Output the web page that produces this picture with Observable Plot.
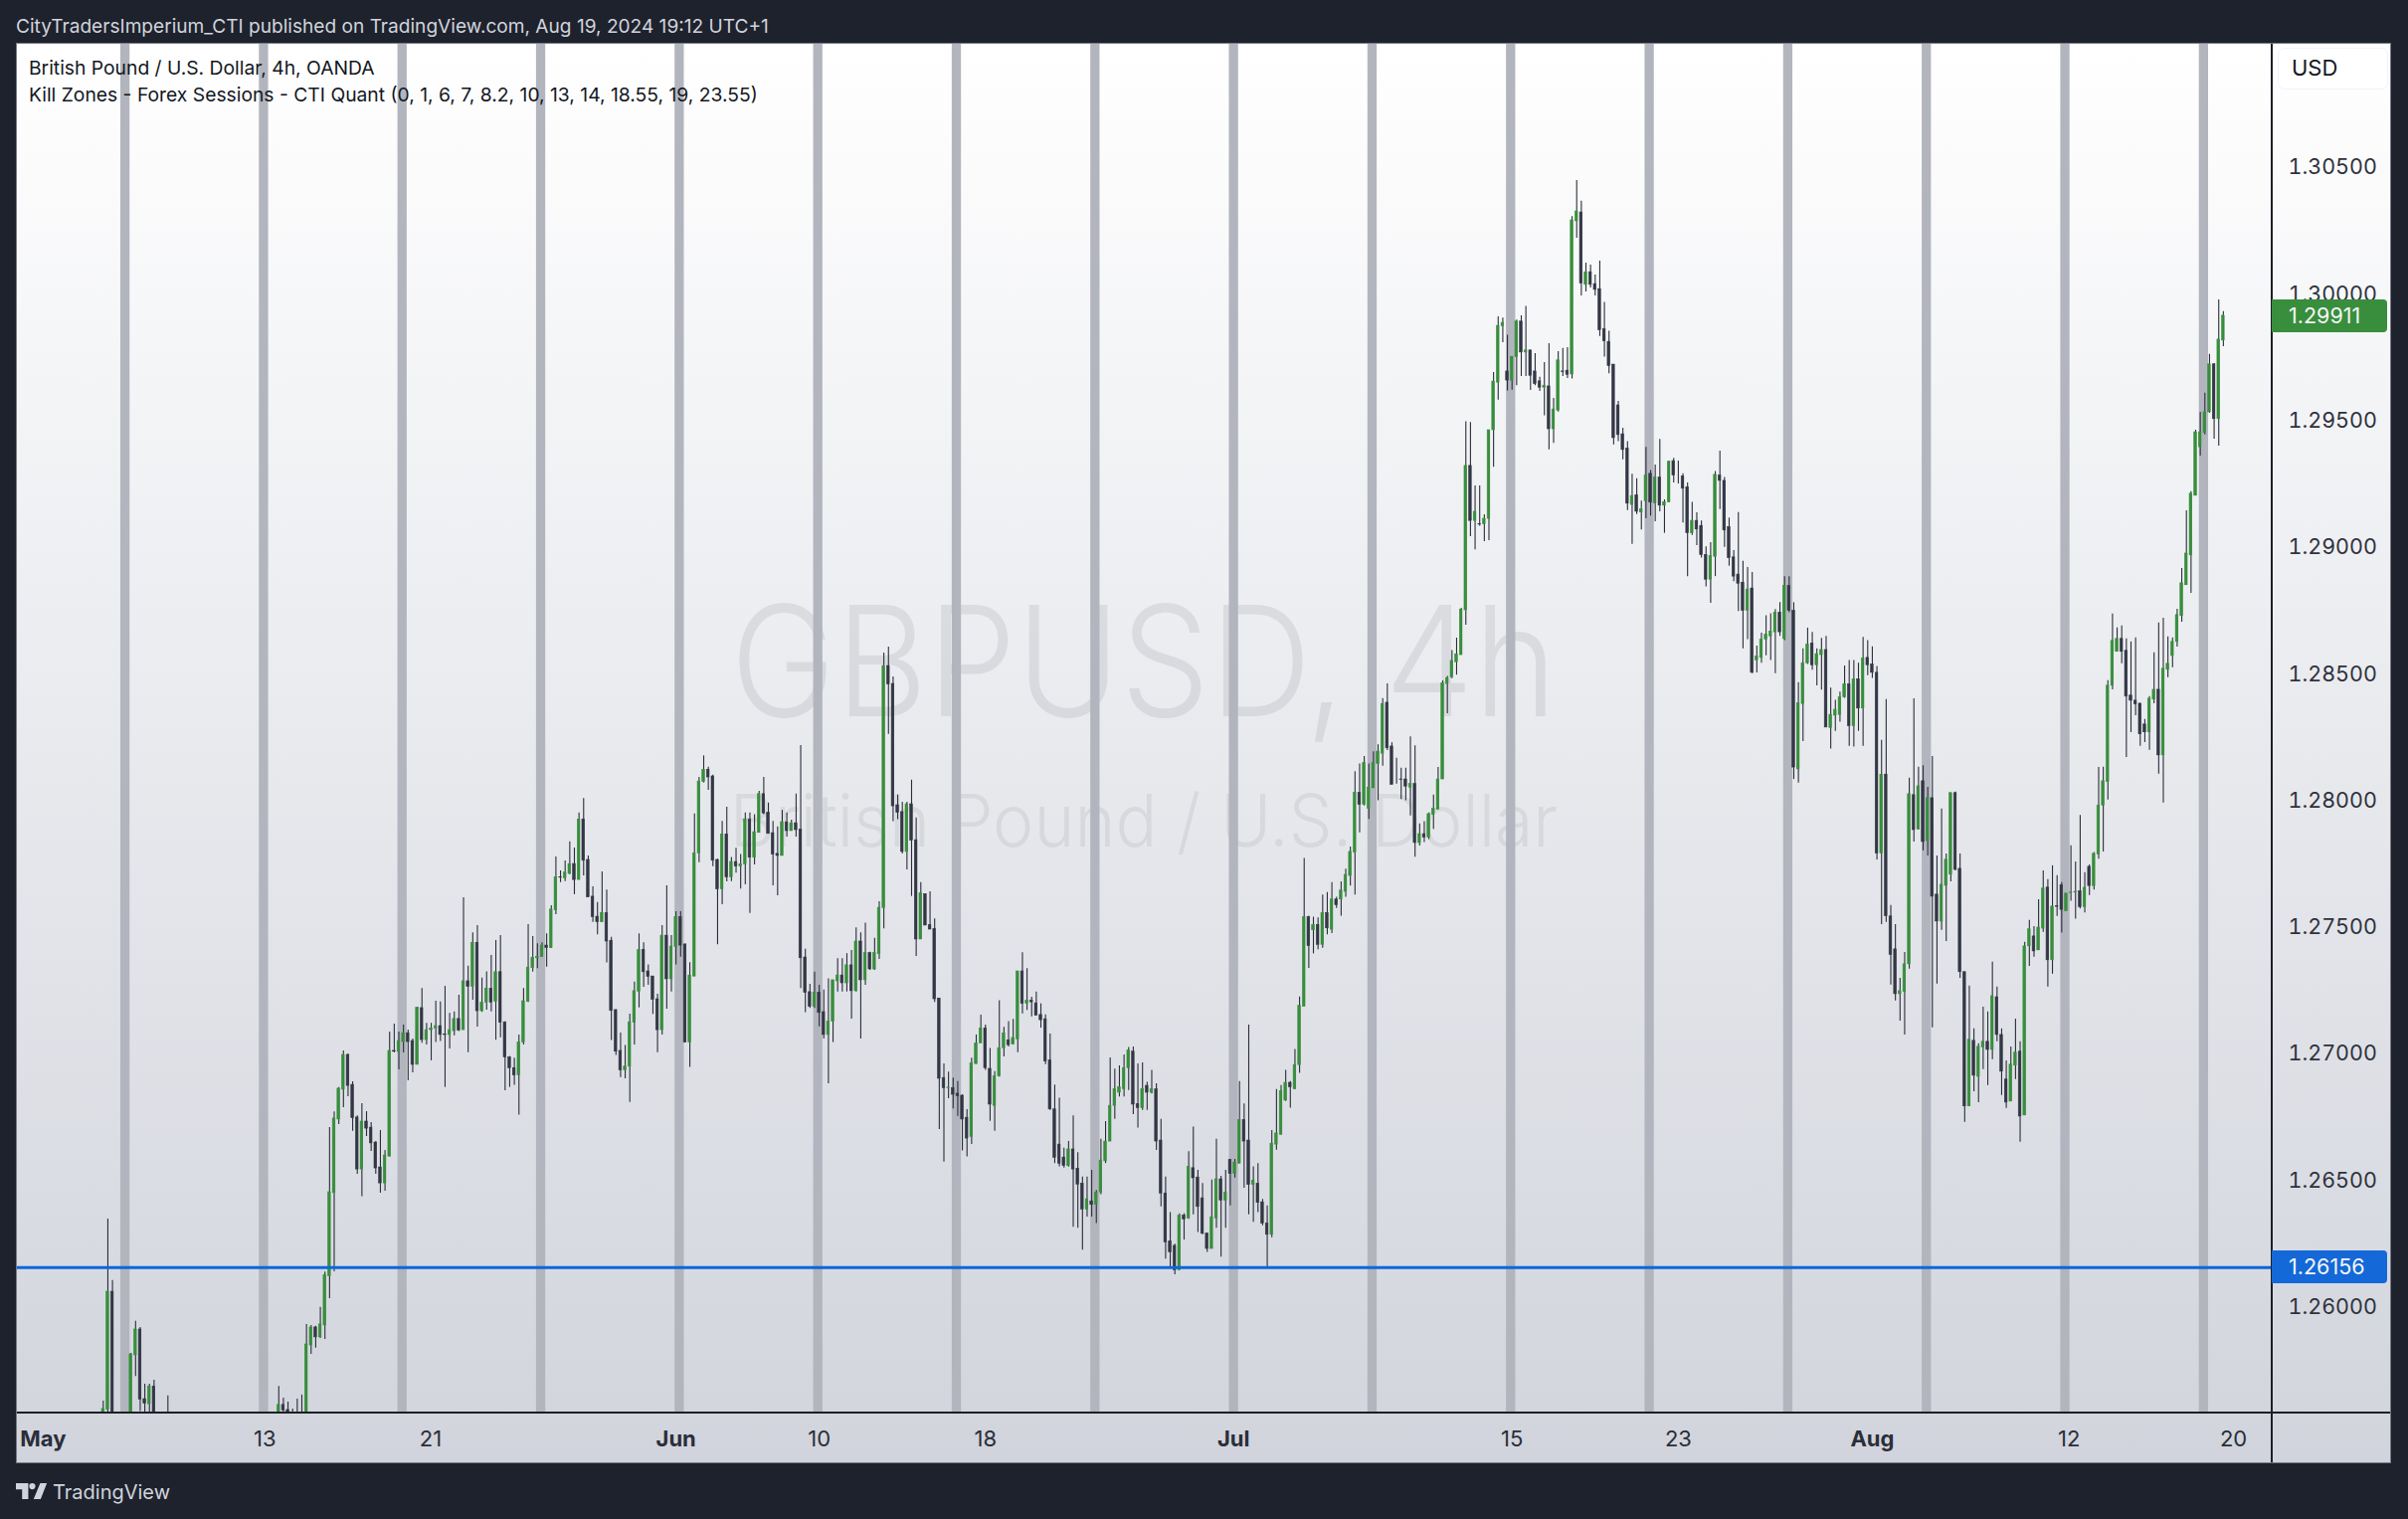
<!DOCTYPE html>
<html><head><meta charset="utf-8">
<script src="https://cdn.jsdelivr.net/npm/d3@7"></script>
<script src="https://cdn.jsdelivr.net/npm/@observablehq/plot@0.6"></script>
<style>
html,body{margin:0;padding:0;background:#1e222d;width:2421px;height:1527px;overflow:hidden;font-family:Inter,"Noto Sans",sans-serif}
.abs{position:absolute;white-space:nowrap}
#frame{position:absolute;left:16px;top:43px;width:2388px;height:1428px;background:linear-gradient(180deg,#ffffff 0%,#d1d4dc 100%)}
#frame svg{position:absolute;left:0;top:0;overflow:visible}
.tag{position:absolute;left:2268px;width:116px;height:33px;line-height:33px;color:#f4f6f4;font-size:21.5px;border-radius:0 4px 4px 0;padding-left:17px;box-sizing:border-box}
</style></head><body>
<div class="abs" id="head" style="left:16px;top:14px;color:#d1d4dc;font-size:19.1px;line-height:24px">CityTradersImperium_CTI published on TradingView.com, Aug 19, 2024 19:12 UTC+1</div>
<div id="frame">
  <div class="abs" style="left:0;width:2268px;top:531px;text-align:center;font-size:154px;line-height:180px;font-weight:300;color:rgba(42,46,57,.09);transform:scaleX(.923)">GBPUSD, 4h</div>
  <div class="abs" style="left:0;width:2268px;top:735px;text-align:center;font-size:73px;line-height:94px;font-weight:300;color:rgba(42,46,57,.08);transform:scaleX(.955)">British Pound / U.S. Dollar</div>
</div>
<div class="abs" id="foot" style="left:53px;top:1487px;color:#d1d4dc;font-size:20px;line-height:26px">TradingView</div>
<svg class="abs" style="left:16px;top:1491px" width="32" height="16" viewBox="0 0 36 18"><path fill="#d1d4dc" d="M14 18H7V7H0V0h14v18zM28 18h-8L27.5 0H35L28 18zM22 3.5a3.5 3.5 0 1 1-7 0 3.5 3.5 0 0 1 7 0z"/></svg>
<script>
// OHLC of the 4h GBP/USD bars, price x 100000; null = bar entirely below the visible range
const opens=[
125490,125595,126061,null,null,null,125500,125810,125912,125637,
125617,125687,null,null,125500,null,null,null,null,null,
null,null,null,null,null,null,null,null,null,null,
null,null,null,null,null,null,null,null,125500,125614,
125594,125560,125560,125540,125530,125849,125920,125881,125928,126122,
126451,126741,126859,126996,126878,126749,126544,126733,126709,126650,
126552,126489,126595,127012,127008,127047,127082,127051,126957,127181,
127055,127094,127100,127110,127077,127075,127090,127138,127094,127287,
127265,127439,127169,127203,127258,127206,127323,127125,126986,126944,
126915,127045,127206,127339,127378,127383,127428,127418,127567,127698,
127693,127711,127750,127687,127926,127766,127621,127542,127520,127556,
127447,127173,127012,126935,126950,127123,127245,127411,127326,127306,
127216,127094,127467,127295,127422,127540,127432,127045,127306,127792,
128074,128122,128096,127766,127650,127867,127697,127758,127740,127748,
127926,127775,127873,128026,127953,127872,127790,127782,127915,127880,
127911,127886,127381,127244,127186,127242,127165,127075,127127,127287,
127310,127279,127350,127248,127444,127291,127398,127334,127394,127576,
128532,128461,127982,127955,127798,127986,127844,127452,127631,127509,
127494,127219,126905,126865,126865,126843,126835,126748,126672,126960,
127042,127101,126941,126795,126912,127023,127054,127037,127058,127326,
127198,127210,127200,127154,127137,126974,126781,126642,126591,126558,
126623,126547,126488,126386,126418,126404,126453,126576,126654,126795,
126847,126861,126944,127009,126802,126786,126874,126847,126860,126658,
126449,126260,126242,126146,126361,126351,126549,126512,126430,126291,
126230,126351,126505,126421,126581,126526,126567,126739,126658,126483,
126488,126414,126330,126286,126642,126681,126816,126886,126861,126956,
127186,127540,127488,127509,127431,127556,127491,127610,127610,127640,
127703,127795,128031,127984,127968,128049,128145,128186,128387,128214,
128084,128084,128084,128052,128066,127833,127868,127854,127944,127965,
128084,128461,128487,128547,128575,128752,129322,129105,129092,129092,
129113,129463,129651,129874,129695,129659,129752,129892,129770,129778,
129695,129656,129631,129636,129467,129541,129695,129698,129683,130288,
130323,130037,130087,130040,130020,129862,129812,129722,129561,129447,
129390,129168,129206,129138,129183,129291,129174,129276,129165,129178,
129341,129284,129281,129238,129056,129105,129085,128970,128873,128963,
129284,129263,129080,128961,128893,128861,128750,128838,128554,128564,
128636,128649,128665,128743,128639,128848,128750,128124,128382,128543,
128621,128535,128575,128595,128287,128336,128339,128408,128460,128294,
128479,128364,128564,128538,128505,127791,128103,127543,127413,127236,
127245,127354,128022,127887,128077,127841,128010,127629,127523,127664,
127708,128030,127731,127323,126793,127052,126910,127026,127048,127016,
127224,127075,126899,126812,126954,127009,126757,127425,127464,127409,
127495,127657,127370,127583,127666,127564,127635,127637,127642,127580,
127739,127663,127788,127981,128074,128454,128588,128639,128592,128415,
128395,128383,128301,128270,128399,128438,128179,128517,128572,128627,
128729,128851,128969,129204,129396,129452,129534,129723,129507,129817];
const highs=[
125629,126348,126105,null,null,null,125818,125944,125920,125696,
125696,125712,null,null,125650,null,null,null,null,null,
null,null,null,null,null,null,null,null,null,null,
null,null,null,null,null,null,null,null,125687,125641,
125625,125598,125637,125653,125932,125928,125925,125999,126139,126709,
126771,126867,127012,127000,126890,126756,126804,126772,126729,126654,
126698,126619,127086,127118,127086,127114,127094,127059,127185,127258,
127121,127121,127208,127205,127267,127160,127166,127232,127617,127347,
127478,127507,127300,127324,127389,127448,127467,127127,126990,126983,
127075,127258,127511,127464,127435,127439,127474,127585,127778,127723,
127762,127838,127813,127952,128009,127782,127660,127598,127719,127647,
127461,127175,127083,127033,127157,127284,127474,127439,127352,127306,
127236,127507,127664,127467,127562,127562,127435,127360,127948,128092,
128177,128132,128101,127769,127918,127974,127776,127812,127788,127952,
127952,127945,128037,128092,127991,127918,127897,127962,127952,127923,
128026,128218,127413,127275,127323,127271,127252,127297,127291,127376,
127376,127396,127409,127498,127478,127517,127402,127457,127601,128583,
128607,128489,128022,127994,127994,128081,127932,127677,127631,127640,
127533,127219,126961,126928,126905,126891,126839,126780,126983,127075,
127153,127114,127022,126930,127210,127105,127128,127137,127326,127400,
127337,127224,127245,127198,127154,127079,126877,126825,126628,126654,
126756,126610,126514,126514,126540,126461,126663,126733,126984,126940,
126953,126996,127026,127028,126961,126965,126888,126935,126882,126742,
126514,126374,126249,126369,126369,126614,126711,126540,126488,126291,
126502,126663,126517,126540,126584,126584,126891,126803,127114,126554,
126567,126426,126400,126698,126860,126875,126935,126891,127018,127225,
127772,127544,127540,127537,127628,127637,127677,127619,127680,127730,
127817,128115,128145,128175,128145,128193,128221,128403,128461,128229,
128168,128128,128128,128252,128217,127908,127917,127952,128022,128131,
128473,128491,128593,128642,128760,129496,129493,129243,129243,129129,
129463,129691,129911,129906,129838,129753,129898,129915,129952,129778,
129765,129672,129730,129805,129589,129773,129786,129789,130307,130449,
130367,130123,130115,130076,130131,129968,129854,129722,129577,129471,
129418,129289,129271,129183,129395,129304,129325,129427,129188,129341,
129352,129341,129291,129255,129178,129137,129105,129002,129019,129300,
129380,129276,129116,128988,129138,128945,128921,128901,128611,128662,
128730,128738,128755,128782,128885,128885,128782,128466,128600,128681,
128665,128600,128641,128649,128445,128396,128429,128532,128554,128554,
128543,128645,128632,128608,128530,128238,128399,127586,127511,127299,
127401,128089,128402,128132,128138,128053,128175,127782,127967,127790,
128030,128034,127790,127323,127268,127099,127040,127185,127166,127362,
127264,127099,126973,127028,127138,127048,127441,127527,127503,127609,
127723,127688,127743,127704,127677,127633,127822,127758,127942,127716,
127746,127795,128131,128132,128474,128737,128682,128690,128639,128627,
128643,128385,128321,128411,128584,128702,128721,128647,128643,128756,
128917,129145,129220,129463,129534,129609,129762,129726,129978,129931];
const lows=[
125450,125580,125540,null,null,null,125480,125726,125588,125570,
125570,125500,null,null,125450,null,null,null,null,null,
null,null,null,null,null,null,null,null,null,null,
null,null,null,null,null,null,null,null,125450,125570,
125540,125500,125500,125500,125500,125814,125838,125877,125873,126034,
126140,126721,126788,126831,126695,126525,126436,126674,126615,126525,
126450,126458,126593,127004,126937,127004,126894,126925,126957,127042,
127035,126973,127045,127049,126868,127020,127072,127088,127094,127005,
127212,127106,127164,127173,127166,127054,127064,126855,126868,126876,
126758,127035,127203,127323,127337,127382,127343,127416,127550,127677,
127681,127708,127629,127687,127703,127618,127520,127470,127520,127359,
127053,126994,126907,126902,126809,127035,127182,127263,127271,127156,
127005,127075,127177,127245,127352,127382,127045,126947,127304,127755,
128070,128041,127740,127431,127589,127680,127681,127714,127651,127668,
127555,127746,127873,127945,127869,127664,127625,127782,127856,127880,
127856,127258,127163,127180,127180,127107,127059,126882,127045,127245,
127245,127245,127138,127245,127059,127271,127330,127330,127373,127494,
128262,127917,127925,127790,127727,127622,127385,127452,127507,127491,
127203,126702,126573,126823,126783,126754,126617,126593,126643,126960,
127049,126935,126734,126695,126909,126988,127028,127037,127005,127158,
127172,127146,127151,127102,126958,126777,126567,126554,126549,126553,
126316,126312,126225,126356,126356,126330,126444,126567,126654,126742,
126830,126830,126856,126760,126707,126777,126777,126842,126619,126396,
126190,126155,126128,126146,126265,126347,126365,126295,126286,126216,
126230,126312,126198,126312,126400,126510,126567,126470,126365,126335,
126374,126321,126155,126274,126620,126680,126812,126786,126860,126923,
127190,127338,127395,127412,127417,127470,127475,127575,127544,127619,
127663,127628,127873,127979,127926,128049,128000,128136,128198,128063,
128066,128005,128000,127940,127777,127821,127835,127847,127887,127965,
128084,128343,128482,128496,128575,128693,129043,128991,129084,129023,
129027,129317,129582,129809,129618,129621,129639,129675,129675,129620,
129639,129616,129520,129385,129411,129535,129675,129667,129665,130221,
129993,130009,130025,129993,129833,129752,129686,129405,129418,129346,
129146,129012,129130,129069,129113,129124,129102,129141,129056,129178,
129255,129251,129097,128885,129048,129007,128958,128844,128779,128885,
129150,129000,128926,128865,128747,128600,128636,128502,128505,128543,
128572,128554,128502,128649,128632,128742,128084,128069,128233,128538,
128515,128453,128437,128289,128204,128274,128310,128404,128215,128212,
128274,128215,128494,128483,127766,127511,127520,127272,127209,127130,
127075,127335,127837,127884,127802,127782,127103,127276,127488,127444,
127680,127723,127299,126730,126793,126851,126808,126938,126875,126977,
127048,126836,126785,126812,126899,126651,126757,127346,127382,127409,
127480,127264,127315,127543,127477,127564,127603,127532,127573,127557,
127626,127647,127769,127797,128003,128438,128588,128541,128171,128269,
128336,128215,128230,128199,128383,128105,127991,128486,128525,128607,
128705,128851,128819,129204,129361,129444,129530,129428,129400,129793];
const closes=[
125598,126061,125560,null,null,null,125814,125912,125635,125619,
125687,125560,null,null,125490,null,null,null,null,null,
null,null,null,null,null,null,null,null,null,null,
null,null,null,null,null,null,null,null,125614,125592,
125560,125540,125540,125530,125853,125920,125881,125932,126126,126454,
126745,126863,126996,126874,126746,126544,126733,126705,126647,126548,
126489,126599,127012,127009,127051,127082,127047,126957,127182,127055,
127094,127101,127110,127075,127075,127094,127138,127093,127287,127265,
127439,127169,127203,127258,127203,127323,127123,126986,126944,126915,
127046,127208,127341,127380,127384,127428,127418,127570,127698,127696,
127716,127750,127687,127926,127763,127618,127540,127520,127556,127444,
127170,127009,126935,126950,127125,127248,127411,127323,127304,127214,
127094,127467,127295,127424,127540,127428,127045,127310,127792,128076,
128122,128092,127763,127650,127867,127697,127758,127740,127749,127926,
127775,127876,128026,127950,127869,127787,127782,127915,127880,127911,
127884,127378,127241,127186,127242,127162,127075,127128,127291,127310,
127279,127350,127248,127444,127291,127398,127334,127398,127577,128532,
128459,127978,127952,127798,127986,127842,127452,127634,127507,127491,
127216,126902,126865,126867,126839,126833,126741,126666,126963,127042,
127101,126944,126800,126912,127023,127081,127035,127063,127326,127198,
127210,127204,127151,127133,126970,126781,126590,126567,126558,126623,
126544,126484,126386,126426,126404,126453,126579,126654,126795,126861,
126868,126944,127014,126800,126786,126861,126847,126860,126654,126449,
126256,126216,126146,126361,126347,126554,126509,126396,126290,126230,
126355,126505,126421,126453,126526,126572,126739,126654,126483,126500,
126412,126330,126286,126646,126686,126853,126886,126868,126956,127190,
127540,127426,127509,127431,127556,127496,127610,127587,127645,127707,
127798,128031,127984,128149,128052,128149,128194,128382,128207,128063,
128084,128082,128056,128066,127833,127868,127854,127947,127968,128084,
128464,128484,128552,128578,128754,129322,129105,129141,129090,129113,
129463,129655,129875,129887,129659,129753,129892,129770,129778,129678,
129646,129631,129639,129467,129545,129739,129693,129682,130292,130327,
130042,130087,130037,130017,129858,129814,129716,129432,129444,129385,
129173,129203,129141,129150,129284,129177,129276,129165,129178,129338,
129284,129284,129232,129056,129105,129071,128970,128873,128966,129287,
129263,129067,128958,128885,128857,128750,128834,128505,128570,128636,
128655,128668,128743,128665,128848,128750,128131,128385,128543,128616,
128535,128579,128595,128289,128339,128359,128408,128460,128294,128479,
128364,128561,128535,128505,127791,128103,127544,127391,127236,127248,
127354,128026,127884,128057,127837,128010,127621,127523,127668,127767,
128030,127727,127323,126793,127056,126914,127028,127048,127016,127228,
127075,126930,126808,126958,127005,126753,127425,127492,127405,127499,
127653,127370,127582,127581,127569,127633,127637,127640,127580,127656,
127663,127790,127981,128077,128454,128631,128639,128588,128411,128395,
128380,128262,128270,128403,128438,128179,128521,128541,128627,128733,
128859,128976,129212,129455,129455,129534,129723,129507,129821,129915];
// Kill-zone bands (start bar of each weekly band)
const killZoneBars=[3.8,33.8,63.8,93.8,123.8,153.8,183.8,213.8,243.8,273.8,303.8,333.8,363.8,393.8,423.8,453.8];
const killZoneSpan=2;
const priceTicks=[1.26,1.265,1.27,1.275,1.28,1.285,1.29,1.295,1.30,1.305];
const dayTickBars=[35,70.9,155,191,305,341,425.6,461.2];
const dayTickLabels=["13","21","10","18","15","23","12","20"];
const monthTickBars=[-13,124,244.7,383];
const monthTickLabels=["May","Jun","Jul","Aug"];
const lastPrice=1.29911, basePrice=1.26156;
const priceDomain=[1.25582,1.30991], barDomain=[-18.8,469.58];

[opens,highs,lows,closes].forEach(a=>{if(a.length!==460)throw new Error("length "+a.length)});
const bars=opens.map((o,i)=>o==null?null:{i,o:o/1e5,h:highs[i]/1e5,l:lows[i]/1e5,c:closes[i]/1e5}).filter(Boolean);
const up=bars.filter(d=>d.c>=d.o), down=bars.filter(d=>d.c<d.o);
const GREEN="#388e3c", DARK="#333745", WICK="#2a2e39", BLUE="#0b67dd";
const body=(data,fill)=>Plot.rect(data,{x1:d=>d.i-.28,x2:d=>d.i+.28,y1:"o",y2:"c",fill,stroke:fill,strokeWidth:.6,clip:true});
const W=2388,H=1428;
const plot=Plot.plot({
  width:W,height:H,marginLeft:0,marginRight:120,marginTop:0,marginBottom:51,
  style:{background:"transparent",fontFamily:"Inter, 'Noto Sans', sans-serif"},
  x:{domain:barDomain,axis:null},
  y:{domain:priceDomain,axis:null},
  marks:[
    Plot.rect(killZoneBars,{x1:d=>d,x2:d=>d+killZoneSpan,fill:"#b2b5be"}),
    Plot.ruleX(bars,{x:"i",y1:"l",y2:"h",stroke:WICK,strokeWidth:1.1,clip:true}),
    body(up,GREEN),body(down,DARK),
    Plot.ruleY([basePrice],{stroke:BLUE,strokeWidth:3}),
    Plot.axisY({anchor:"right",ticks:priceTicks,tickFormat:d3.format(".5f"),tickSize:0,tickPadding:16,fontSize:21.5,label:null,fill:"#2f323d"}),
    Plot.text(dayTickLabels,{x:(d,i)=>dayTickBars[i],text:d=>d,frameAnchor:"bottom",dy:26,lineAnchor:"middle",fontSize:22,fill:"#2a2e39"}),
    Plot.text(monthTickLabels,{x:(d,i)=>monthTickBars[i],text:d=>d,frameAnchor:"bottom",dy:26,lineAnchor:"middle",fontSize:22,fontWeight:700,fill:"#2a2e39"})
  ]
});
const frame=document.getElementById("frame");
frame.appendChild(plot);
const yS=plot.scale("y");
const addLine=(css)=>{const e=document.createElement("div");e.style.cssText="position:absolute;background:#1c1f27;"+css;frame.appendChild(e)};
addLine("left:0;width:2388px;top:"+(H-51-1)+"px;height:2px");
addLine("left:2267px;width:1.5px;top:0;height:"+H+"px");
const addTag=(price,bg)=>{const e=document.createElement("div");e.className="tag";e.textContent=price.toFixed(5);e.style.background=bg;e.style.top=(yS.apply(price)-16.5)+"px";frame.appendChild(e)};
addTag(lastPrice,GREEN);addTag(basePrice,"#1468d8");
const usd=document.createElement("div");
usd.style.cssText="position:absolute;left:2274px;top:5px;width:111px;height:42px;box-sizing:border-box;border:1.5px solid #f0f3fa;border-radius:7px;background:#fff;color:#131722;font-size:22px;line-height:39px;padding-left:13px";
usd.textContent="USD";frame.appendChild(usd);
const leg=(t,top)=>{const e=document.createElement("div");e.className="abs";e.style.cssText+=";left:13px;top:"+top+"px;font-size:19.3px;line-height:24px;color:#131722";e.textContent=t;frame.appendChild(e)};
leg("British Pound / U.S. Dollar, 4h, OANDA",13);
leg("Kill Zones - Forex Sessions - CTI Quant (0, 1, 6, 7, 8.2, 10, 13, 14, 18.55, 19, 23.55)",40);
const border=document.createElement("div");
border.style.cssText="position:absolute;inset:0;border:1px solid #787b86;pointer-events:none";frame.appendChild(border);
</script>
</body></html>
